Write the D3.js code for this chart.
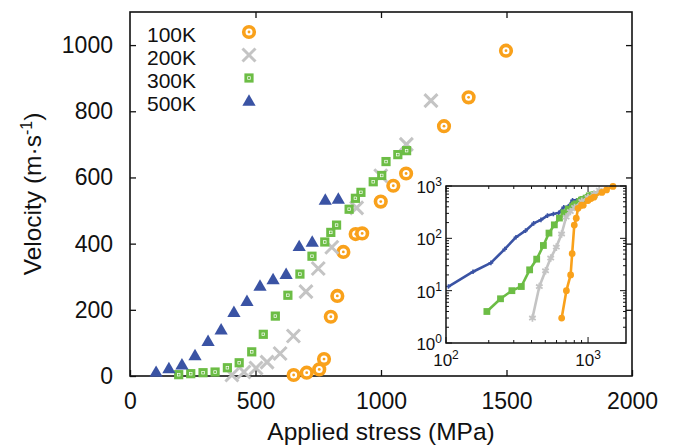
<!DOCTYPE html>
<html>
<head>
<meta charset="utf-8">
<script src="https://cdn.jsdelivr.net/npm/d3@7"></script>
<style>
  body { margin: 0; background: #fff; }
  text { font-family: "Liberation Sans", Arial, sans-serif; fill: #111; }
</style>
</head>
<body>
<div id="chart"></div>
<script>
// data (stress in MPa, velocity in m/s)
const stress100 = [652, 704, 754, 773, 800, 826, 850, 899, 925, 999, 1049, 1100, 1251, 1349, 1498];
const vel100    = [3, 10, 20, 51, 179, 242, 375, 429, 431, 527, 575, 612, 755, 842, 983];

const stress200 = [406, 454, 502, 546, 598, 651, 701, 750, 804, 903, 999, 1101, 1199];
const vel200    = [3, 12, 24, 42, 68, 121, 255, 325, 389, 508, 605, 700, 832];

const stress300 = [194, 242, 291, 339, 388, 435, 485, 531, 579, 629, 677, 725, 776, 800, 823, 873, 898, 920, 969, 1003, 1020, 1067, 1102];
const vel300    = [4, 7, 10, 12, 25, 40, 73, 126, 181, 244, 308, 362, 405, 434, 456, 504, 537, 555, 587, 606, 648, 669, 681];

const stress500 = [104, 155, 207, 259, 311, 363, 414, 466, 518, 570, 622, 674, 726, 778, 830];
const vel500    = [12, 23, 34, 62, 105, 140, 193, 226, 272, 292, 308, 392, 405, 532, 535];

const seriesNames = ["100K", "200K", "300K", "500K"];
const xTicks = [0, 500, 1000, 1500, 2000];
const yTicks = [0, 200, 400, 600, 800, 1000];
const insetXTicks = [100, 1000];
const insetYTicks = [1, 10, 100, 1000];

const colors = { "100K": "#f9a11b", "200K": "#c4c4c4", "300K": "#6cbd45", "500K": "#3a53a4" };

const width = 675;
const height = 447;

const svg = d3.select("#chart")
  .append("svg")
  .attr("width", width)
  .attr("height", height);

// Main scales
const x = d3.scaleLinear().domain([0, 2000]).range([130, 632]);
const y = d3.scaleLinear().domain([0, 1100]).range([376, 12]);

const series = [
  { name: "100K", pts: stress100.map((s, i) => [s, vel100[i]]) },
  { name: "200K", pts: stress200.map((s, i) => [s, vel200[i]]) },
  { name: "300K", pts: stress300.map((s, i) => [s, vel300[i]]) },
  { name: "500K", pts: stress500.map((s, i) => [s, vel500[i]]) }
];

// Axes (ticks point inward on all four sides)
svg.append("g")
  .attr("transform", `translate(0,${y(0)})`)
  .call(d3.axisBottom(x).tickValues(xTicks).tickFormat(d3.format("d")).tickSizeInner(-6).tickSizeOuter(0).tickPadding(17))
  .call(g => g.select(".domain").remove())
  .call(g => g.selectAll("text").style("font-size", "23px"));

svg.append("g")
  .attr("transform", `translate(0,${y(1100)})`)
  .call(d3.axisTop(x).tickValues(xTicks.slice(1, -1)).tickSizeInner(-6).tickSizeOuter(0).tickFormat(""))
  .call(g => g.select(".domain").remove());

svg.append("g")
  .attr("transform", `translate(${x(0)},0)`)
  .call(d3.axisLeft(y).tickValues(yTicks).tickFormat(d3.format("d")).tickSizeInner(-6).tickSizeOuter(0).tickPadding(17))
  .call(g => g.select(".domain").remove())
  .call(g => g.selectAll("text").style("font-size", "23px"));

svg.append("g")
  .attr("transform", `translate(${x(2000)},0)`)
  .call(d3.axisRight(y).tickValues(yTicks.slice(1)).tickSizeInner(-6).tickSizeOuter(0).tickFormat(""))
  .call(g => g.select(".domain").remove());

svg.selectAll(".tick line").attr("stroke", "#111").attr("stroke-width", 1.3);

// frame
svg.append("rect")
  .attr("x", x(0)).attr("y", y(1100))
  .attr("width", x(2000) - x(0)).attr("height", y(0) - y(1100))
  .attr("fill", "none").attr("stroke", "#111").attr("stroke-width", 1.6);

// axis titles
svg.append("text")
  .attr("x", (x(0) + x(2000)) / 2)
  .attr("y", 440)
  .attr("text-anchor", "middle")
  .style("font-size", "24.5px")
  .text("Applied stress (MPa)");

const yt = svg.append("text")
  .attr("transform", `translate(41,${(y(0) + y(1100)) / 2}) rotate(-90)`)
  .attr("text-anchor", "middle")
  .style("font-size", "24.5px");
yt.append("tspan").text("Velocity (m·s");
yt.append("tspan").attr("dy", -9).style("font-size", "16px").text("-1");
yt.append("tspan").attr("dy", 9).text(")");

// marker drawing
function drawMarker(g, name, cx, cy) {
  const c = colors[name];
  if (name === "100K") {
    g.append("circle").attr("cx", cx).attr("cy", cy).attr("r", 5.3)
      .attr("fill", "#fff").attr("stroke", c).attr("stroke-width", 3.6);
    g.append("circle").attr("cx", cx).attr("cy", cy).attr("r", 1.4).attr("fill", c);
  } else if (name === "200K") {
    g.append("path")
      .attr("d", `M${cx - 6.5},${cy - 6.5}L${cx + 6.5},${cy + 6.5}M${cx - 6.5},${cy + 6.5}L${cx + 6.5},${cy - 6.5}`)
      .attr("stroke", c).attr("stroke-width", 3).attr("fill", "none");
  } else if (name === "300K") {
    g.append("rect").attr("x", cx - 4.6).attr("y", cy - 4.6).attr("width", 9.2).attr("height", 9.2)
      .attr("fill", c);
    g.append("rect").attr("x", cx - 1.3).attr("y", cy - 1.3).attr("width", 2.6).attr("height", 2.6)
      .attr("fill", "none").attr("stroke", "#fff").attr("stroke-width", 0.7);
  } else {
    g.append("path")
      .attr("transform", `translate(${cx},${cy + 1})`)
      .attr("d", d3.symbol(d3.symbolTriangle, 76)())
      .attr("fill", c);
  }
}

const marks = svg.append("g");
series.forEach(s => {
  const g = marks.append("g");
  s.pts.forEach(([sx, sv]) => drawMarker(g, s.name, x(sx), y(sv)));
});

// legend
const legend = svg.append("g");
seriesNames.forEach((name, i) => {
  const ly = 32 + i * 23;
  legend.append("text")
    .attr("x", 147).attr("y", ly + 9.5)
    .style("font-size", "21px")
    .text(name);
  drawMarker(legend, name, 249, ly);
});

// Inset (log-log)
const xi = d3.scaleLog().domain([100, 1850]).range([446, 626]);
const yi = d3.scaleLog().domain([1, 1000]).range([343, 186]);

const inset = svg.append("g");
inset.append("rect")
  .attr("x", xi(100)).attr("y", yi(1000))
  .attr("width", xi(1850) - xi(100)).attr("height", yi(1) - yi(1000))
  .attr("fill", "#fff");

const xMinor = d3.range(2, 10).map(d => d * 100);
const yMinor = [1, 10, 100].flatMap(p => d3.range(2, 10).map(d => d * p));

const tickG = inset.append("g").attr("stroke", "#111").attr("stroke-width", 1);
function tickPair(list, len, vertical) {
  list.forEach(v => {
    if (vertical) {
      const px = xi(v);
      tickG.append("line").attr("x1", px).attr("x2", px).attr("y1", yi(1)).attr("y2", yi(1) - len);
      tickG.append("line").attr("x1", px).attr("x2", px).attr("y1", yi(1000)).attr("y2", yi(1000) + len);
    } else {
      const py = yi(v);
      tickG.append("line").attr("x1", xi(100)).attr("x2", xi(100) + len).attr("y1", py).attr("y2", py);
      tickG.append("line").attr("x1", xi(1850)).attr("x2", xi(1850) - len).attr("y1", py).attr("y2", py);
    }
  });
}
tickPair(insetXTicks, 6, true);
tickPair(xMinor, 3, true);
tickPair(insetYTicks, 6, false);
tickPair(yMinor, 3, false);

const line = d3.line().x(d => xi(d[0])).y(d => yi(d[1]));
const insetOrder = ["500K", "300K", "200K", "100K"];
insetOrder.forEach(name => {
  const s = series.find(d => d.name === name);
  const c = colors[name];
  const g = inset.append("g");
  g.append("path").datum(s.pts).attr("d", line)
    .attr("fill", "none").attr("stroke", c).attr("stroke-width", 2.6).attr("stroke-linejoin", "round");
  s.pts.forEach(([sx, sv]) => {
    const cx = xi(sx), cy = yi(sv);
    if (name === "100K") {
      g.append("circle").attr("cx", cx).attr("cy", cy).attr("r", 3.4).attr("fill", c);
    } else if (name === "200K") {
      g.append("path").attr("transform", `translate(${cx},${cy})`)
        .attr("d", d3.symbol(d3.symbolAsterisk, 40)())
        .attr("stroke", c).attr("stroke-width", 1.8).attr("fill", "none");
    } else if (name === "300K") {
      g.append("rect").attr("x", cx - 3.4).attr("y", cy - 3.4).attr("width", 6.8).attr("height", 6.8).attr("fill", c);
    } else {
      g.append("path").attr("transform", `translate(${cx},${cy})`)
        .attr("d", d3.symbol(d3.symbolCross, 12)())
        .attr("fill", c);
    }
  });
});

inset.append("rect")
  .attr("x", xi(100)).attr("y", yi(1000))
  .attr("width", xi(1850) - xi(100)).attr("height", yi(1) - yi(1000))
  .attr("fill", "none").attr("stroke", "#111").attr("stroke-width", 1.5);

// inset tick labels, 10 with superscript exponent
function powLabel(px, py, exp, anchor) {
  const t = inset.append("text")
    .attr("x", px).attr("y", py)
    .attr("text-anchor", anchor)
    .style("font-size", "17px");
  t.append("tspan").text("10");
  t.append("tspan").attr("dy", -7).style("font-size", "12px").text(exp);
}
insetYTicks.forEach(v => powLabel(xi(100) - 4, yi(v) + 7, Math.round(Math.log10(v)), "end"));
insetXTicks.forEach(v => powLabel(xi(v), yi(1) + 23, Math.round(Math.log10(v)), "middle"));
</script>
</body>
</html>
